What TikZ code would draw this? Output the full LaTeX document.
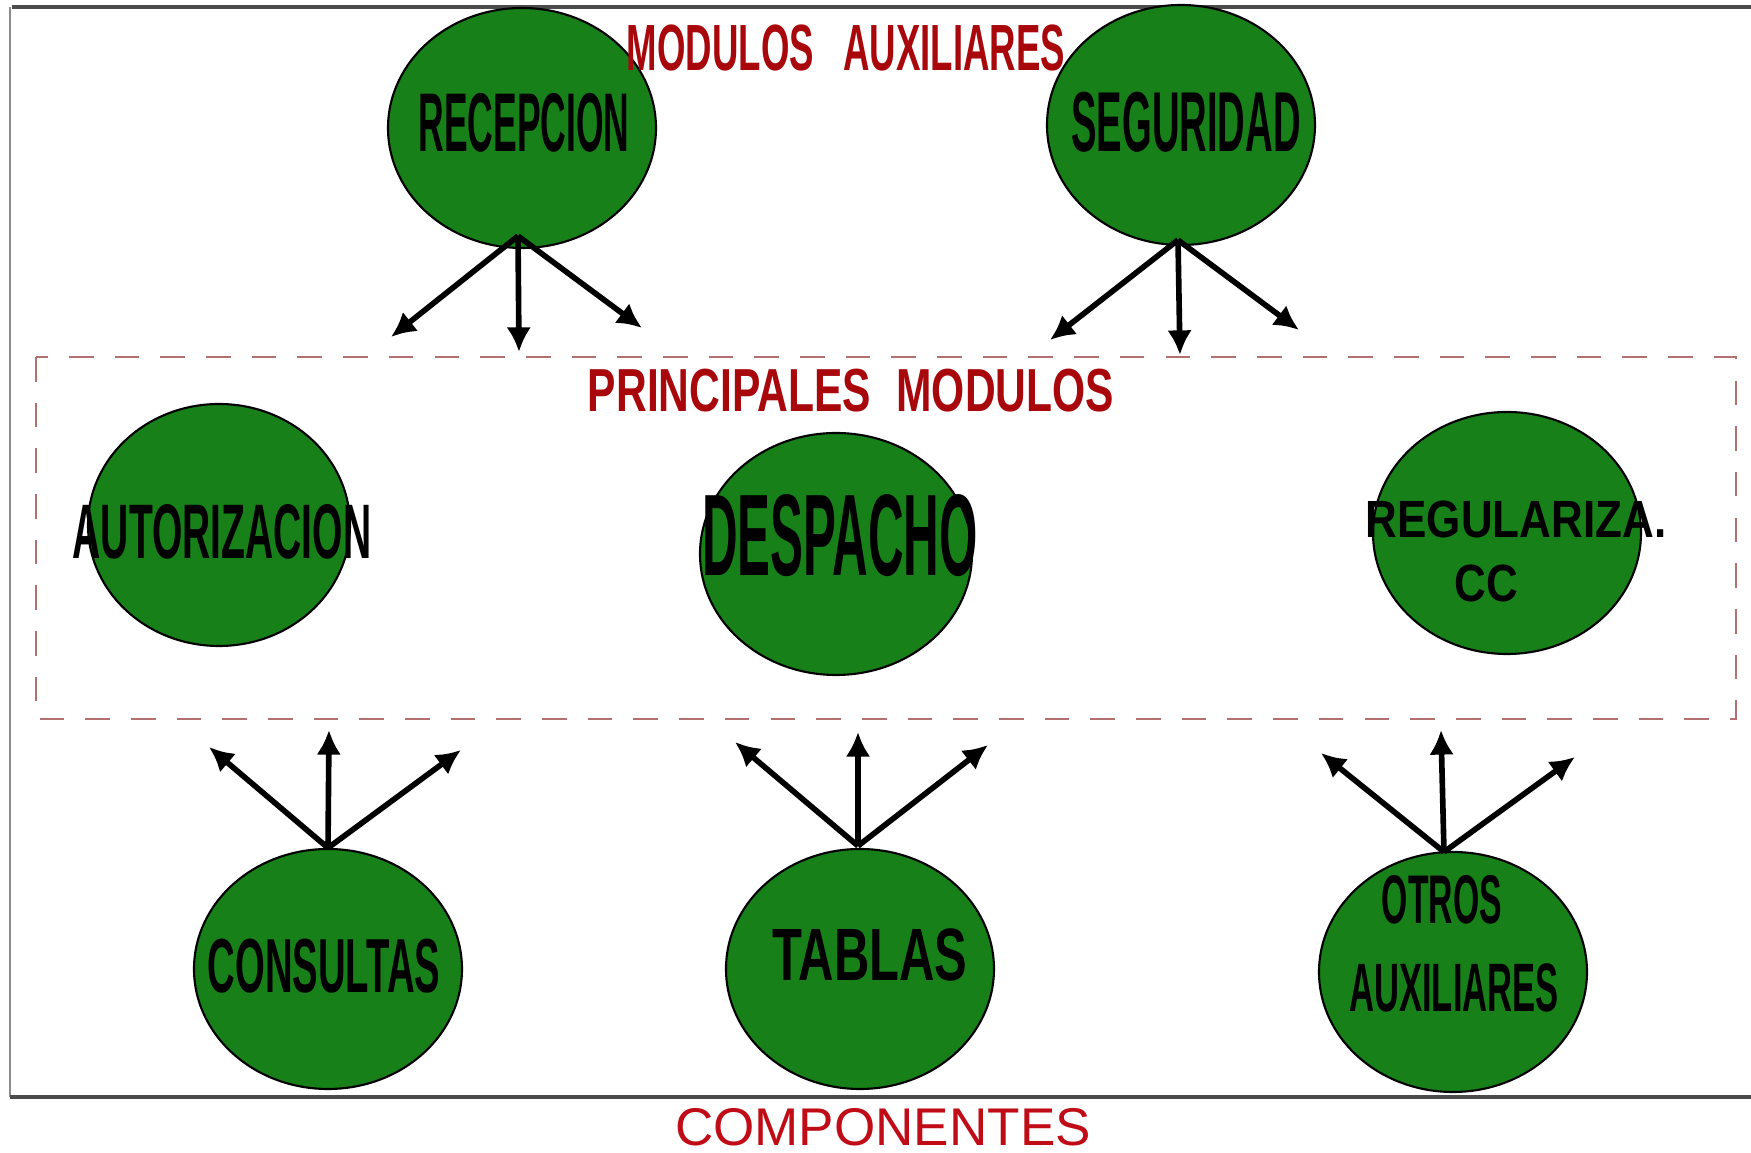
\documentclass[tikz,border=0pt]{standalone}
\usepackage{fontspec}
\setmainfont{Liberation Sans}
\usepackage{graphicx}
\usetikzlibrary{shapes,arrows.meta,calc}

\definecolor{ovalgreen}{RGB}{24,128,24}
\definecolor{titlered}{RGB}{168,8,12}
\definecolor{compred}{RGB}{192,12,22}
\definecolor{boxred}{RGB}{178,112,112}
\newcommand{\squeezed}[2]{\scalebox{#1}[1]{#2}}

\tikzset{
	oval/.style={ellipse, draw=black, line width=0.6pt, fill=ovalgreen, minimum width=2.68cm, minimum height=2.40cm, inner sep=0pt},
	lbl/.style={inner sep=0pt, text=black},
	link/.style={line width=1.6pt, -{Latex[length=7pt,width=7pt]}},
}

\begin{document}
\begin{tikzpicture}
	\useasboundingbox (0,0) rectangle (17.51,-11.53);
	
	% frame
	\draw[line width=1.2pt, black!70] (0.12,-0.07) -- (17.51,-0.07);
	\draw[line width=0.4pt, black!45] (0.10,-0.07) -- (0.10,-10.97);
	\draw[line width=1.2pt, black!70] (0.10,-10.97) -- (17.51,-10.97);
	\draw[dashed, boxred, line width=0.8pt, dash pattern=on 7pt off 6pt] (0.36,-3.57) rectangle (17.36,-7.19);
	
	% modules
	\node[oval] (rec) at (5.22,-1.28) {};
	\node[oval] (seg) at (11.81,-1.25) {};
	\node[oval, minimum width=2.62cm, minimum height=2.42cm] (aut) at (2.19,-5.25) {};
	\node[oval, minimum width=2.72cm, minimum height=2.42cm] (des) at (8.36,-5.54) {};
	\node[oval, minimum height=2.42cm] (reg) at (15.07,-5.33) {};
	\node[oval] (con) at (3.28,-9.69) {};
	\node[oval] (tab) at (8.60,-9.69) {};
	\node[oval] (otr) at (14.53,-9.72) {};
	
	\node[lbl, font={\bfseries\fontsize{23.7}{26}\selectfont}] (rec-t) at (5.24,-1.23) {\squeezed{0.426}{RECEPCION}};
	\node[lbl, font={\bfseries\fontsize{24.2}{26}\selectfont}] (seg-t) at (11.86,-1.22) {\squeezed{0.45}{SEGURIDAD}};
	\node[lbl, font={\bfseries\fontsize{22}{24}\selectfont}] (aut-t) at (2.22,-5.32) {\squeezed{0.505}{AUTORIZACION}};
	\node[lbl, font={\bfseries\fontsize{33}{36}\selectfont}] (des-t) at (8.40,-5.36) {\squeezed{0.425}{DESPACHO}};
	\node[lbl, font={\bfseries\fontsize{14.9}{17}\selectfont}] (reg-t1) at (15.16,-5.19) {\squeezed{0.84}{REGULARIZA.}};
	\node[lbl, font={\bfseries\fontsize{14.9}{17}\selectfont}] (reg-t2) at (14.86,-5.83) {\squeezed{0.84}{CC}};
	\node[lbl, font={\bfseries\fontsize{21.8}{24}\selectfont}] (con-t) at (3.24,-9.66) {\squeezed{0.5}{CONSULTAS}};
	\node[lbl, font={\bfseries\fontsize{21.1}{24}\selectfont}] (tab-t) at (8.70,-9.55) {\squeezed{0.66}{TABLAS}};
	\node[lbl, font={\bfseries\fontsize{19.6}{22}\selectfont}] (otr-t1) at (14.42,-9.00) {\squeezed{0.49}{OTROS}};
	\node[lbl, font={\bfseries\fontsize{19.5}{22}\selectfont}] (otr-t2) at (14.54,-9.88) {\squeezed{0.505}{AUXILIARES}};
	
	% titles
	\node[lbl, text=titlered, font={\bfseries\fontsize{18.6}{20}\selectfont}] (aux-title) at (8.46,-0.48) {\squeezed{0.56}{MODULOS\hspace{0.8em}AUXILIARES}};
	\node[lbl, text=titlered, font={\bfseries\fontsize{17.3}{20}\selectfont}] (main-title) at (8.51,-3.91) {\squeezed{0.70}{PRINCIPALES\hspace{0.6em}MODULOS}};
	\node[lbl, text=compred, font={\fontsize{15.1}{18}\selectfont}] (comp-title) at (8.83,-11.27) {COMPONENTES};
	
	% arrow ends
	\coordinate (rec-l) at (3.91,-3.37);
	\coordinate (rec-m) at (5.19,-3.52);
	\coordinate (rec-r) at (6.42,-3.28);
	\coordinate (seg-l) at (10.50,-3.40);
	\coordinate (seg-m) at (11.80,-3.55);
	\coordinate (seg-r) at (12.99,-3.30);
	\coordinate (con-l) at (2.09,-7.47);
	\coordinate (con-m) at (3.29,-7.30);
	\coordinate (con-r) at (4.61,-7.50);
	\coordinate (tab-l) at (7.35,-7.42);
	\coordinate (tab-m) at (8.58,-7.32);
	\coordinate (tab-r) at (9.88,-7.45);
	\coordinate (otr-l) at (13.21,-7.53);
	\coordinate (otr-m) at (14.41,-7.30);
	\coordinate (otr-r) at (15.75,-7.57);
	
	% arrows
	\draw[link] ($(rec.south)+(-0.04,0.13)$) -- (rec-l);
	\draw[link] ($(rec.south)+(-0.04,0.13)$) -- (rec-m);
	\draw[link] ($(rec.south)+(-0.04,0.13)$) -- (rec-r);
	\draw[link] ($(seg.south)+(-0.03,0.06)$) -- (seg-l);
	\draw[link] ($(seg.south)+(-0.03,0.06)$) -- (seg-m);
	\draw[link] ($(seg.south)+(-0.03,0.06)$) -- (seg-r);
	\draw[link] (con.north) -- (con-l);
	\draw[link] (con.north) -- (con-m);
	\draw[link] (con.north) -- (con-r);
	\draw[link] ($(tab.north)+(-0.02,0.02)$) -- (tab-l);
	\draw[link] ($(tab.north)+(-0.02,0.02)$) -- (tab-m);
	\draw[link] ($(tab.north)+(-0.02,0.02)$) -- (tab-r);
	\draw[link] ($(otr.north)+(-0.09,-0.01)$) -- (otr-l);
	\draw[link] ($(otr.north)+(-0.09,-0.01)$) -- (otr-m);
	\draw[link] ($(otr.north)+(-0.09,-0.01)$) -- (otr-r);
\end{tikzpicture}
\end{document}
